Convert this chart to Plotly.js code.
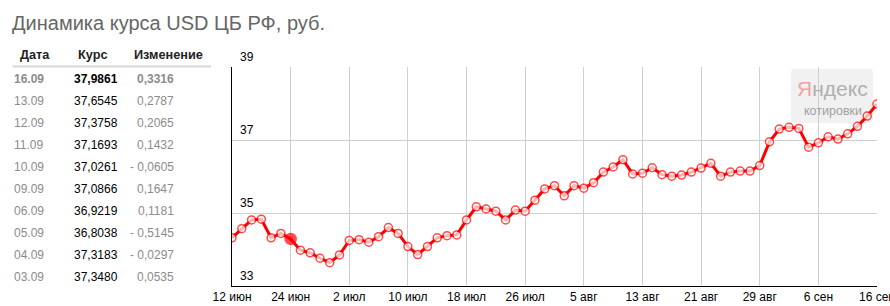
<!DOCTYPE html>
<html>
<head>
<meta charset="utf-8">
<script src="https://cdn.plot.ly/plotly-3.0.1.min.js"></script>
<style>
  html, body { margin: 0; padding: 0; background: #fff; }
  #chart { width: 890px; height: 306px; }
</style>
</head>
<body>
<div id="chart"></div>
<script>
// ---- Data ----
const titleText = 'Динамика курса USD ЦБ РФ, руб.';

// USD rate by trading day (index 0 = 12 июн ... index 66 = 16 сен)
const rates = [
  34.32, 34.57, 34.81, 34.83, 34.32, 34.44, 34.29, 33.98, 33.91, 33.76,
  33.64, 33.85, 34.25, 34.27, 34.20, 34.35, 34.60, 34.44, 34.08, 33.86,
  34.08, 34.32, 34.38, 34.40, 34.81, 35.17, 35.11, 35.05, 34.81, 35.08,
  35.05, 35.35, 35.66, 35.75, 35.47, 35.75, 35.68, 35.83, 36.12, 36.26,
  36.46, 36.07, 36.09, 36.24, 36.05, 36.01, 36.04, 36.12, 36.23, 36.36,
  36.01, 36.12, 36.15, 36.15, 36.30, 36.95, 37.30, 37.3480, 37.3183, 36.8038,
  36.9219, 37.0866, 37.0261, 37.1693, 37.3758, 37.6545, 37.9861
];
const highlightIndex = 6;

const xTickIndex = [0, 6, 12, 18, 24, 30, 36, 42, 48, 54, 60, 66];
const xTickLabels = ['12 июн', '24 июн', '2 июл', '10 июл', '18 июл', '26 июл',
                     '5 авг', '13 авг', '21 авг', '29 авг', '6 сен', '16 сен'];
const yTicks = [33, 35, 37, 39];

// Table
const tableHeaders = ['Дата', 'Курс', 'Изменение'];
const tableDates = ['16.09', '13.09', '12.09', '11.09', '10.09', '09.09', '06.09', '05.09', '04.09', '03.09'];
const tableRates = ['37,9861', '37,6545', '37,3758', '37,1693', '37,0261', '37,0866', '36,9219', '36,8038', '37,3183', '37,3480'];
const tableChanges = ['0,3316', '0,2787', '0,2065', '0,1432', '- 0,0605', '0,1647', '0,1181', '- 0,5145', '- 0,0297', '0,0535'];

// ---- Layout geometry ----
const W = 890, H = 306;
const M = { l: 232, r: 13, t: 67, b: 20 };
const PW = W - M.l - M.r, PH = H - M.t - M.b;
const px = (x) => (x - M.l) / PW;
const py = (y) => (H - M.b - y) / PH;

const FONT = 'Arial, "Liberation Sans", sans-serif';
const GRAY = '#8c8c8c';

const xIdx = rates.map((_, i) => i);
const markerFill = rates.map((_, i) => i === highlightIndex ? '#ff0000' : '#ffffff');
const markerSize = rates.map((_, i) => i === highlightIndex ? 11 : 8);

const trace = {
  x: xIdx, y: rates, type: 'scatter', mode: 'lines+markers',
  line: { color: '#ff0000', width: 3 },
  marker: { color: markerFill, size: markerSize, line: { color: '#ff0000', width: 1.5 } },
  hoverinfo: 'y', cliponaxis: true
};

const annotations = [];
// y tick labels (inside, above gridline)
yTicks.forEach(v => annotations.push({
  xref: 'paper', yref: 'y', x: px(238), y: v, yshift: 10,
  xanchor: 'left', yanchor: 'middle', showarrow: false,
  text: String(v), font: { family: FONT, size: 12, color: '#000' }
}));

// table headers
const headerX = [18, 76, 131.5];
tableHeaders.forEach((h, i) => annotations.push({
  xref: 'paper', yref: 'paper', x: px(headerX[i]), y: py(55),
  xanchor: 'left', yanchor: 'middle', showarrow: false,
  text: '<b>' + h + '</b>', font: { family: FONT, size: 12.7, color: '#222' }
}));
// table rows
tableDates.forEach((d, i) => {
  const yy = py(79 + 22 * i);
  const b = (s) => i === 0 ? '<b>' + s + '</b>' : s;
  annotations.push({
    xref: 'paper', yref: 'paper', x: px(12), y: yy, xanchor: 'left', yanchor: 'middle',
    showarrow: false, text: b(d), font: { family: FONT, size: 12, color: GRAY }
  });
  annotations.push({
    xref: 'paper', yref: 'paper', x: px(71.5), y: yy, xanchor: 'left', yanchor: 'middle',
    showarrow: false, text: b(tableRates[i]), font: { family: FONT, size: 12, color: '#000' }
  });
  annotations.push({
    xref: 'paper', yref: 'paper', x: px(176), y: yy, xanchor: 'right', yanchor: 'middle',
    showarrow: false, text: b(tableChanges[i]), font: { family: FONT, size: 12, color: GRAY }
  });
});

// Yandex watermark
annotations.push({
  xref: 'paper', yref: 'paper', x: px(832), y: py(88), xanchor: 'center', yanchor: 'middle',
  showarrow: false,
  text: '<span style="color:#f7a0a0">Я</span><span style="color:#b0b0b0">ндекс</span>',
  font: { family: FONT, size: 21, color: '#b0b0b0' }
});
annotations.push({
  xref: 'paper', yref: 'paper', x: px(832.5), y: py(111), xanchor: 'center', yanchor: 'middle',
  showarrow: false, text: 'котировки',
  font: { family: FONT, size: 12.5, color: '#a0a0a0' }
});

// rounded rect path for watermark
function roundRect(x0, y0, x1, y1, r) {
  const X = (v) => px(v), Y = (v) => py(v);
  return `M${X(x0 + r)},${Y(y0)} L${X(x1 - r)},${Y(y0)} Q${X(x1)},${Y(y0)} ${X(x1)},${Y(y0 + r)} ` +
         `L${X(x1)},${Y(y1 - r)} Q${X(x1)},${Y(y1)} ${X(x1 - r)},${Y(y1)} L${X(x0 + r)},${Y(y1)} ` +
         `Q${X(x0)},${Y(y1)} ${X(x0)},${Y(y1 - r)} L${X(x0)},${Y(y0 + r)} Q${X(x0)},${Y(y0)} ${X(x0 + r)},${Y(y0)} Z`;
}

const shapes = [
  { type: 'path', xref: 'paper', yref: 'paper', path: roundRect(791, 69, 873, 123, 4),
    fillcolor: '#f1f1f1', line: { width: 0 }, layer: 'below' },
  { type: 'line', xref: 'paper', yref: 'paper', x0: px(12.5), x1: px(211), y0: py(66.5), y1: py(66.5),
    line: { color: '#d8d8d8', width: 2 } }
];

const layout = {
  width: W, height: H,
  margin: M,
  paper_bgcolor: '#fff', plot_bgcolor: 'rgba(0,0,0,0)',
  showlegend: false,
  title: {
    text: titleText, xref: 'container', yref: 'container',
    x: 12 / W, xanchor: 'left', y: 1 - 23 / H, yanchor: 'middle',
    font: { family: FONT, size: 20, color: '#666' }
  },
  xaxis: {
    range: [0, 66], tickmode: 'array', tickvals: xTickIndex, ticktext: xTickLabels,
    showgrid: true, gridcolor: '#cfcfcf', gridwidth: 1, zeroline: false,
    showline: true, linecolor: '#000', linewidth: 1, ticks: '',
    ticklabeloverflow: 'allow',
    tickfont: { family: FONT, size: 12, color: '#000' }, fixedrange: true
  },
  yaxis: {
    range: [33, 39], tickmode: 'array', tickvals: yTicks, showticklabels: false,
    showgrid: true, gridcolor: '#cfcfcf', gridwidth: 1, zeroline: false,
    showline: true, linecolor: '#000', linewidth: 1, ticks: '', fixedrange: true
  },
  annotations: annotations,
  shapes: shapes
};

Plotly.newPlot('chart', [trace], layout, { displayModeBar: false, staticPlot: true });
</script>
</body>
</html>
